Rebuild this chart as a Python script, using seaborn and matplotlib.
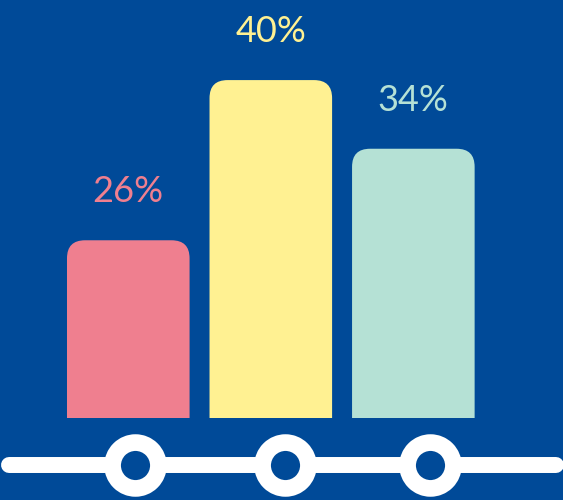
import matplotlib
matplotlib.use("Agg")
import matplotlib.pyplot as plt
import matplotlib.transforms as mtransforms
from matplotlib.patches import FancyBboxPatch, Rectangle
import seaborn as sns
import pandas as pd

categories = ["A", "B", "C"]
values = [26, 40, 34]
labels = ["26%", "40%", "34%"]
colors = ["#EF7F8F", "#FFF192", "#B5E1D5"]
bg = "#004A98"

sns.set_theme(style="white")
plt.rcParams["font.family"] = ["Lato", "DejaVu Sans"]

df = pd.DataFrame({"cat": categories, "val": values})

fig = plt.figure(figsize=(5.63, 5.0), dpi=100, facecolor=bg)
ax = fig.add_axes([0, 0, 1, 1])
ax.set_facecolor(bg)

sns.barplot(data=df, x="cat", y="val", hue="cat", palette=colors,
            legend=False, width=0.86, ax=ax, linewidth=0)

base = 10.5
ax.set_xlim(-0.9, 3.05)
ax.set_ylim(3.3, 47.0)

# px per data unit
xpp = 563 / (3.05 + 0.9)
ypp = 500 / (47.0 - 3.3)
r_px = 18
for p, c, lab in zip(list(ax.patches), colors, labels):
    x0, w, h = p.get_x(), p.get_width(), p.get_height()
    p.remove()
    ext = 3.0
    fb = FancyBboxPatch((x0, base - ext), w, h - base + ext,
                        boxstyle=f"round,pad=0,rounding_size={r_px / xpp}",
                        mutation_aspect=xpp / ypp,
                        facecolor=c, edgecolor="none", zorder=2)
    ax.add_patch(fb)
    clip = Rectangle((x0 - 0.1, base), w + 0.2, h, transform=ax.transData)
    fb.set_clip_path(clip)
    ax.annotate(lab, (x0 + w / 2, h), xytext=(0, 23), textcoords="offset points",
                ha="center", va="bottom", color=c, fontsize=26)

# baseline with rings
trans = mtransforms.blended_transform_factory(ax.transData, ax.transAxes)
ax.plot([-0.84, 3.0], [0.07, 0.07], color="white", lw=11.5,
        solid_capstyle="round", transform=trans, zorder=3)
ax.plot([0.05, 1.1, 2.12], [0.07] * 3, linestyle="none", marker="o",
        ms=33, mew=12, mec="white", mfc=bg, transform=trans, zorder=4)

ax.set_axis_off()
fig.savefig("out.png", dpi=100, facecolor=bg)
